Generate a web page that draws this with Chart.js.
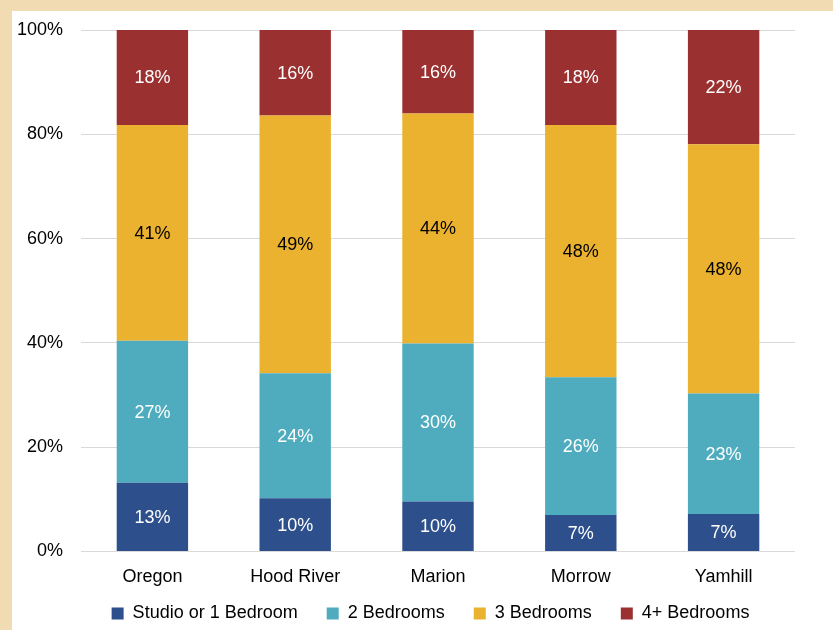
<!DOCTYPE html>
<html>
<head>
<meta charset="utf-8">
<script src="https://cdn.jsdelivr.net/npm/chart.js@4/dist/chart.umd.min.js"></script>
<style>
  html, body { margin: 0; padding: 0; background: #F1DBB2; }
  #wrap { position: absolute; left: 12px; top: 11px; width: 821px; height: 619px; background: #ffffff; }
  canvas { display: block; }
</style>
</head>
<body>
<div id="wrap"><canvas id="c" width="821" height="619"></canvas></div>
<script>
const categories = ['Oregon', 'Hood River', 'Marion', 'Morrow', 'Yamhill'];
const studio1 = [13.2, 10.2, 9.6, 7.0, 7.2];
const bed2 = [27.2, 24.0, 30.3, 26.4, 23.1];
const bed3 = [41.4, 49.4, 44.1, 48.4, 47.8];
const bed4 = [18.2, 16.4, 16.0, 18.2, 21.9];
const seriesNames = ['Studio or 1 Bedroom', '2 Bedrooms', '3 Bedrooms', '4+ Bedrooms'];
const yTicks = [0, 20, 40, 60, 80, 100];

const FONT = "'Liberation Sans', Arial, sans-serif";
const colors = ['#2D4F8B', '#4FACBF', '#EBB22F', '#9B3030'];
const labelColors = ['#ffffff', '#ffffff', '#000000', '#ffffff'];

const segLabels = {
  id: 'segLabels',
  afterDatasetsDraw(chart) {
    const ctx = chart.ctx;
    ctx.save();
    ctx.font = '18px ' + FONT;
    ctx.textAlign = 'center';
    ctx.textBaseline = 'middle';
    chart.data.datasets.forEach((ds, di) => {
      const meta = chart.getDatasetMeta(di);
      meta.data.forEach((bar, i) => {
        const v = ds.data[i];
        const p = bar.getProps(['x', 'y', 'base'], true);
        ctx.fillStyle = labelColors[di];
        ctx.fillText(Math.round(v) + '%', p.x, (p.y + p.base) / 2 + 1);
      });
    });
    ctx.restore();
  }
};

const legendShift = {
  id: 'legendShift',
  afterLayout(chart) {
    const l = chart.legend;
    if (!l) return;
    l.top -= 16; l.height += 16;
    l.left += 27; l.right += 27;
  }
};

new Chart(document.getElementById('c'), {
  type: 'bar',
  data: {
    labels: categories,
    datasets: [studio1, bed2, bed3, bed4].map((d, i) => ({
      label: seriesNames[i],
      data: d,
      backgroundColor: colors[i],
      borderWidth: 0,
      barPercentage: 0.5,
      categoryPercentage: 1.0
    }))
  },
  options: {
    responsive: false,
    animation: false,
    layout: { padding: { left: 0, right: 38, top: 19, bottom: 2.5 } },
    plugins: {
      tooltip: { enabled: false },
      legend: {
        position: 'bottom',
        maxHeight: 36,
        labels: {
          boxWidth: 12,
          boxHeight: 12,
          padding: 29,
          color: '#000',
          font: { family: FONT, size: 18 }
        }
      }
    },
    scales: {
      x: {
        stacked: true,
        grid: { display: false, drawTicks: false },
        border: { display: false },
        ticks: { color: '#000', font: { family: FONT, size: 18 }, padding: 15 },
        afterFit(s) { s.height = 40; }
      },
      y: {
        stacked: true,
        min: 0,
        max: 100,
        afterBuildTicks(s) { s.ticks = yTicks.map(v => ({ value: v })); },
        grid: { color: '#D9D9D9', lineWidth: 1, drawTicks: true, tickLength: 18, tickColor: 'rgba(0,0,0,0)' },
        border: { display: false },
        ticks: {
          color: '#000',
          font: { family: FONT, size: 18 },
          padding: 0,
          callback: v => v + '%'
        },
        afterFit(s) { s.width = 69; }
      }
    }
  },
  plugins: [segLabels, legendShift]
});
</script>
</body>
</html>
